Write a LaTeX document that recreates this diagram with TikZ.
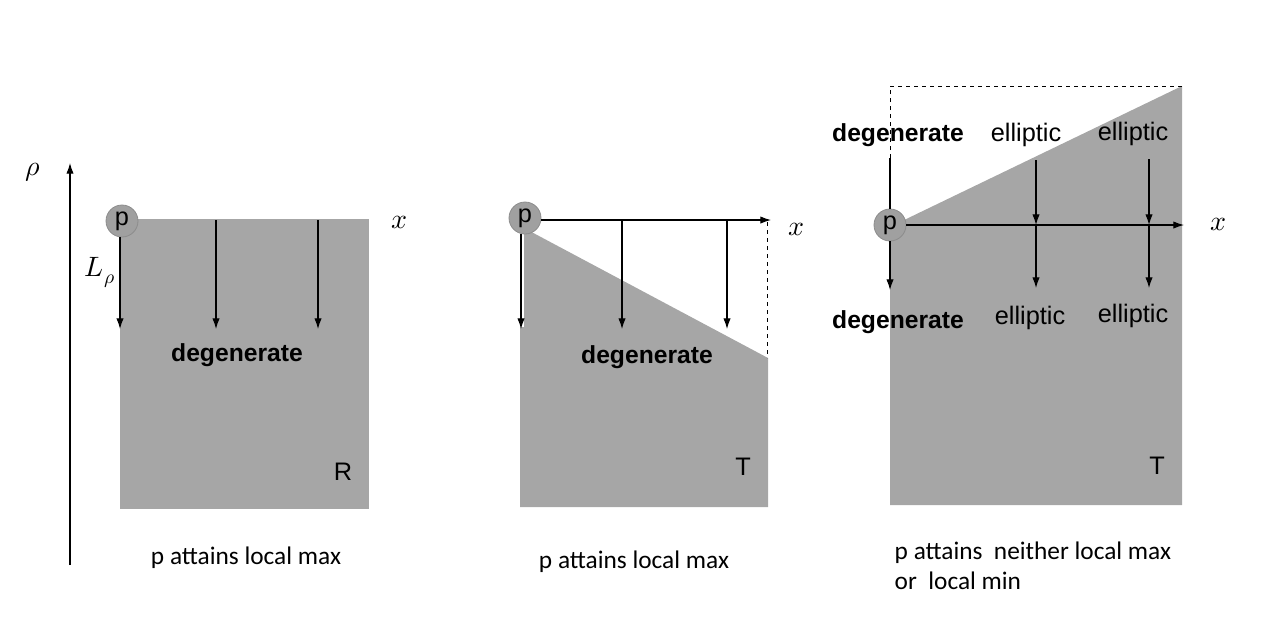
\documentclass[tikz,border=0pt]{standalone}
\usepackage{fontspec}
\usepackage{unicode-math}
\setmathfont{Latin Modern Math}
\setmainfont{Liberation Sans}
\newfontfamily\capfont{Carlito}
\usetikzlibrary{arrows.meta}
\definecolor{regiongray}{HTML}{A6A6A6}
\definecolor{pgray}{HTML}{A0A0A0}
\tikzset{
  pnode/.style={circle,fill=pgray,draw=black!45,line width=0.6pt,inner sep=0pt,minimum size=24pt,font=\fontsize{19}{19}\selectfont},
  flow/.style={line width=0.8pt,-{Latex[length=8pt,width=5.5pt]}},
  lbl/.style={font=\fontsize{19}{19}\selectfont},
  boldlbl/.style={font=\fontsize{18.5}{18.5}\selectfont\bfseries},
  caption/.style={font=\fontsize{19}{23}\selectfont\capfont},
  mathlbl/.style={font=\fontsize{21}{21}\selectfont}
}
\begin{document}
\begin{tikzpicture}[x=0.75pt,y=-0.75pt]
  \useasboundingbox (0,0) rectangle (1276,640);
  % regions
  \fill[regiongray] (120,219) rectangle (369,509);
  \fill[regiongray] (524,228) -- (768,358) -- (768,507) -- (520,507) -- (520,327) -- (524,327) -- cycle;
  \fill[regiongray] (900,222) -- (1182,86) -- (1182,505) -- (890,505) -- (890,230) -- cycle;
  % left: rho axis
  \coordinate (rhobot) at (70,565);
  \coordinate (rhotop) at (70,163);
  \draw[flow] (rhobot) -- (rhotop);
  \node[mathlbl] (rho) at (33,172) {$\rho$};
  % panel R
  \node[pnode] (p1) at (122,221) {p};
  \node[mathlbl] (x1) at (400,222) {$x$};
  \coordinate (a1) at (120,329);
  \coordinate (b1t) at (216,220);
  \coordinate (b1) at (216,329);
  \coordinate (c1t) at (318,220);
  \coordinate (c1) at (318,329);
  \draw[flow] (p1.south -| a1) -- (a1);
  \draw[flow] (b1t) -- (b1);
  \draw[flow] (c1t) -- (c1);
  \node[mathlbl] (L1) at (100,273) {$L_\rho$};
  \node[boldlbl] (deg1) at (237,355) {degenerate};
  \node[lbl] (R1) at (343,472) {R};
  \node[caption] (cap1) at (246,558) {p attains local max};
  % panel T (max)
  \node[pnode] (p2) at (525,218) {p};
  \coordinate (x2end) at (771,220);
  \draw[flow] (p2.east |- x2end) -- (x2end);
  \draw[dashed,line width=0.6pt] (767,222) -- (767,358);
  \node[mathlbl] (x2) at (796,229) {$x$};
  \coordinate (a2) at (521,329);
  \coordinate (b2t) at (622,220);
  \coordinate (b2) at (622,329);
  \coordinate (c2t) at (727,220);
  \coordinate (c2) at (727,329);
  \draw[flow] (p2.south -| a2) -- (a2);
  \draw[flow] (b2t) -- (b2);
  \draw[flow] (c2t) -- (c2);
  \node[boldlbl] (deg2) at (647,357) {degenerate};
  \node[lbl] (T2) at (743,467) {T};
  \node[caption] (cap2) at (634,562) {p attains local max};
  % panel T (saddle)
  \draw[dashed,line width=0.6pt] (890,158) -- (890,86) -- (1182,86);
  \node[pnode] (p3) at (890,225) {p};
  \draw[line width=0.8pt] (p3.north) -- (890,158);
  \coordinate (x3end) at (1184,225);
  \draw[flow] (p3.east) -- (x3end);
  \node[mathlbl] (x3) at (1218,224) {$x$};
  \coordinate (a3) at (890,290);
  \draw[flow] (p3.south) -- (a3);
  \coordinate (b3t) at (1036,160);
  \coordinate (b3m) at (1036,225);
  \coordinate (b3) at (1036,288);
  \coordinate (c3t) at (1149,159);
  \coordinate (c3m) at (1149,225);
  \coordinate (c3) at (1149,288);
  \draw[flow] (b3t) -- (b3m);
  \draw[flow] (b3m) -- (b3);
  \draw[flow] (c3t) -- (c3m);
  \draw[flow] (c3m) -- (c3);
  \node[boldlbl] (deg3u) at (898,135) {degenerate};
  \node[boldlbl] (deg3l) at (898,322) {degenerate};
  \node[lbl] (el3a) at (1026,135) {elliptic};
  \node[lbl] (el3b) at (1133,134) {elliptic};
  \node[lbl] (el3c) at (1030,318) {elliptic};
  \node[lbl] (el3d) at (1133,316) {elliptic};
  \node[lbl] (T3) at (1157,466) {T};
  \node[caption,align=left,anchor=north west] (cap3) at (890,537) {p attains\ \ neither local max\\or\ \ local min};
\end{tikzpicture}
\end{document}
